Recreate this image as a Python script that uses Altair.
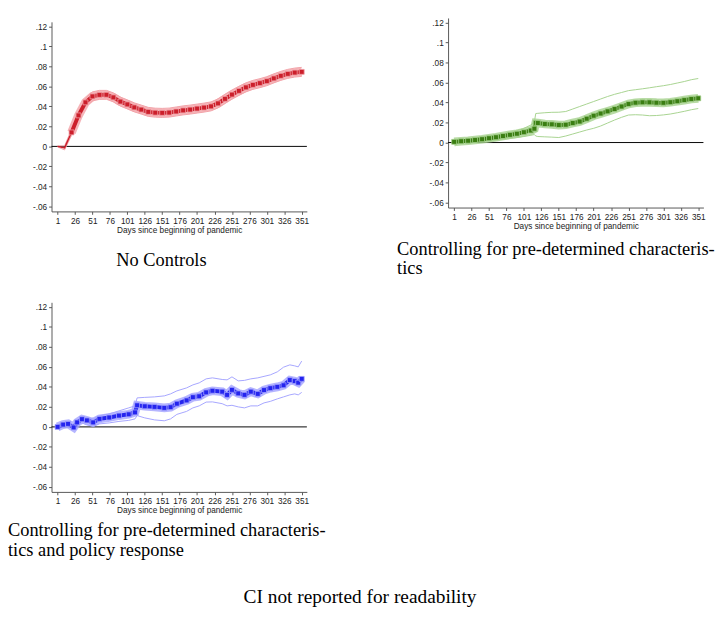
import altair as alt
import pandas as pd

X_TICKS = [1, 26, 51, 76, 101, 126, 151, 176, 201, 226, 251, 276, 301, 326, 351]
Y_TICKS = [-0.06, -0.04, -0.02, 0, 0.02, 0.04, 0.06, 0.08, 0.1, 0.12]
X_TITLE = "Days since beginning of pandemic"

# No controls (red)
red_days = [1, 11, 21, 31, 41, 51, 61, 71, 81, 91, 101, 111, 121, 131, 141, 151, 161, 171,
            181, 191, 201, 211, 221, 231, 241, 251, 261, 271, 281, 291, 301, 311, 321, 331, 341, 351]
red_mid = [0, -0.0015, 0.014, 0.031, 0.044, 0.050, 0.0515, 0.0516, 0.049, 0.0448, 0.042, 0.039,
           0.0368, 0.0345, 0.0337, 0.0335, 0.0338, 0.0349, 0.036, 0.0368, 0.0378, 0.0388, 0.040,
           0.043, 0.0475, 0.0518, 0.0555, 0.059, 0.0615, 0.0632, 0.0652, 0.068, 0.0705, 0.0725,
           0.0738, 0.0745]
red_hi = [0.0005, 0.0005, 0.017, 0.034, 0.048, 0.0545, 0.056, 0.056, 0.0535, 0.0493, 0.0465,
          0.0435, 0.0413, 0.039, 0.0382, 0.038, 0.0383, 0.0394, 0.0405, 0.0413, 0.0423, 0.0433,
          0.0445, 0.0475, 0.052, 0.0563, 0.060, 0.0635, 0.066, 0.0677, 0.0697, 0.0725, 0.075,
          0.077, 0.0783, 0.079]
red_lo = [-0.0005, -0.0035, 0.011, 0.028, 0.040, 0.0455, 0.047, 0.0471, 0.0445, 0.0403, 0.0375,
          0.0345, 0.0323, 0.030, 0.0292, 0.029, 0.0293, 0.0304, 0.0315, 0.0323, 0.0333, 0.0343,
          0.0355, 0.0385, 0.043, 0.0473, 0.051, 0.0545, 0.057, 0.0587, 0.0607, 0.0635, 0.066,
          0.068, 0.0693, 0.070]

# Pre-determined characteristics (green)
green_days = [1, 11, 21, 31, 41, 51, 61, 71, 81, 91, 101, 111, 116, 118, 121, 131, 141, 151, 161,
              171, 181, 191, 201, 211, 221, 231, 241, 251, 261, 271, 281, 291, 301, 311, 321, 331,
              341, 351]
green_mid = [0.0007, 0.0013, 0.0018, 0.0025, 0.0033, 0.0043, 0.0053, 0.0065, 0.0077, 0.0088,
             0.0103, 0.012, 0.0138, 0.0197, 0.0195, 0.0185, 0.0182, 0.0175, 0.0178, 0.0195, 0.021,
             0.0238, 0.0268, 0.029, 0.0312, 0.0335, 0.036, 0.0385, 0.0398, 0.0402, 0.0402, 0.0398,
             0.0397, 0.0403, 0.0413, 0.0424, 0.0435, 0.0442]
green_hi = [0.0012, 0.002, 0.0028, 0.0037, 0.0048, 0.006, 0.0073, 0.0087, 0.0102, 0.0118, 0.0142,
            0.0175, 0.0205, 0.029, 0.0292, 0.0298, 0.0302, 0.0303, 0.031, 0.0335, 0.036, 0.0385,
            0.041, 0.0435, 0.046, 0.0482, 0.050, 0.0519, 0.0528, 0.0537, 0.0547, 0.0558, 0.0568,
            0.058, 0.0595, 0.061, 0.0628, 0.064]
green_lo = [0, 0, 0, 0.0005, 0.0012, 0.0018, 0.0025, 0.0033, 0.0042, 0.005, 0.006, 0.0072, 0.008,
            0.0065, 0.006, 0.0057, 0.0054, 0.005, 0.0065, 0.0085, 0.0105, 0.0125, 0.0142, 0.0165,
            0.0195, 0.0225, 0.0252, 0.0275, 0.0278, 0.0275, 0.0268, 0.027, 0.0276, 0.0285, 0.0298,
            0.0312, 0.0328, 0.034]

# Pre-determined characteristics and policy response (blue)
blue_days = [1, 9, 16, 24, 29, 36, 43, 52, 61, 75, 89, 103, 112, 115, 126, 140, 154, 163, 172,
             186, 195, 204, 214, 223, 237, 244, 251, 260, 269, 278, 288, 297, 306, 316, 325, 334,
             341, 346, 351]
blue_mid = [0, 0.0023, 0.003, -0.0005, 0.0045, 0.0077, 0.0065, 0.0045, 0.008, 0.0094, 0.0113,
            0.0126, 0.0145, 0.0216, 0.0206, 0.020, 0.019, 0.0197, 0.0232, 0.0265, 0.0297, 0.0306,
            0.0345, 0.0361, 0.0352, 0.032, 0.037, 0.0335, 0.032, 0.0352, 0.033, 0.0368, 0.0387,
            0.040, 0.0416, 0.0468, 0.0458, 0.0442, 0.048]
blue_hi = [0, 0.003, 0.004, 0.002, 0.006, 0.009, 0.009, 0.008, 0.011, 0.013, 0.016, 0.019, 0.021,
           0.029, 0.0295, 0.030, 0.031, 0.033, 0.036, 0.039, 0.042, 0.044, 0.048, 0.049, 0.0474,
           0.047, 0.050, 0.046, 0.0465, 0.048, 0.049, 0.0505, 0.052, 0.055, 0.0597, 0.062, 0.061,
           0.060, 0.0658]
blue_lo = [0, 0.001, 0.002, -0.001, 0.002, 0.004, 0.002, 0.0005, 0.003, 0.004, 0.0055, 0.0065,
           0.008, 0.0113, 0.009, 0.007, 0.0061, 0.008, 0.0125, 0.0155, 0.019, 0.021, 0.0248, 0.025,
           0.0232, 0.021, 0.0216, 0.020, 0.019, 0.021, 0.021, 0.024, 0.0255, 0.028, 0.030, 0.032,
           0.033, 0.032, 0.0345]

SERIF = "Liberation Serif"
SANS = "Liberation Sans"

x_scale = alt.Scale(domain=[-7.7, 358.4], nice=False, zero=False)
y_scale = alt.Scale(domain=[-0.065, 0.1245], nice=False, zero=False)
x_axis = alt.Axis(values=X_TICKS, title=X_TITLE)
y_axis = alt.Axis(values=Y_TICKS, title=None,
                  labelExpr="replace(replace(format(datum.value, '.2~f'), '0.', '.'), '\u2212', '-')")


def caption(lines, x, y, align="left", size=19):
    # one text mark per caption line, placed relative to the plot area
    marks = []
    for i, line in enumerate(lines):
        marks.append(
            alt.Chart(pd.DataFrame({"t": [line]})).mark_text(
                font=SERIF, fontSize=size, align=align, baseline="alphabetic", color="black"
            ).encode(x=alt.value(x), y=alt.value(y + i * 20.5), text="t:N")
        )
    return marks


def panel(days, mid, hi, lo, dark, light, band_from=1):
    df = pd.DataFrame({"day": days, "mid": mid, "hi": hi, "lo": lo})
    base = alt.Chart(df)
    banded = base.transform_filter(alt.datum.day >= band_from)  # thin line before the band starts
    X = alt.X("day:Q", scale=x_scale, axis=x_axis)
    Ymid = alt.Y("mid:Q", scale=y_scale, axis=y_axis)
    zero = alt.Chart(pd.DataFrame({"z": [0]})).mark_rule(color="black", strokeWidth=1).encode(
        y=alt.Y("z:Q", scale=y_scale, axis=y_axis)
    )
    upper = base.mark_line(color=light, strokeWidth=1).encode(
        x=X, y=alt.Y("hi:Q", scale=y_scale, axis=y_axis))
    lower = base.mark_line(color=light, strokeWidth=1).encode(
        x=X, y=alt.Y("lo:Q", scale=y_scale, axis=y_axis))
    thin = base.mark_line(color=dark, strokeWidth=1.5).encode(x=X, y=Ymid)
    halo = banded.mark_line(color=light, strokeWidth=9, opacity=0.8).encode(x=X, y=Ymid)
    core = banded.mark_line(color=dark, strokeWidth=4).encode(x=X, y=Ymid)
    squares = banded.mark_square(size=26, fill=dark, stroke=light, strokeWidth=0.8,
                                 opacity=1).encode(x=X, y=Ymid)
    return [zero, upper, lower, thin, halo, core, squares]


# keeps the left edge of the top-left panel in line with the bottom caption
spacer = alt.Chart(pd.DataFrame({"s": [0]})).mark_rule(strokeOpacity=0).encode(
    x=alt.value(-45), x2=alt.value(0), y=alt.value(10))

# empty cell that pushes the top-left panel a little lower than the top-right one
pad_cell = alt.Chart(pd.DataFrame({"s": [0]})).mark_rule(strokeWidth=0, strokeOpacity=0).encode(
    x=alt.value(0), x2=alt.value(1), y=alt.value(1)).properties(width=1, height=1)

red = alt.layer(
    *panel(red_days, red_mid, red_hi, red_lo, "#cc1f2b", "#f2a2a8", band_from=21),
    *caption(["No Controls"], 67, 252.7),
    spacer,
).properties(width=264, height=196)

green = alt.layer(
    *panel(green_days, green_mid, green_hi, green_lo, "#3a7e12", "#a6d28e"),
    *caption(["Controlling for pre-determined characteris-", "tics"], -52.7, 244.7),
).properties(width=264, height=196)

blue = alt.layer(
    *panel(blue_days, blue_mid, blue_hi, blue_lo, "#2424ee", "#a4a4ff"),
    *caption(["Controlling for pre-determined characteris-", "tics and policy response"], -45, 242),
    *caption(["CI not reported for readability"], 319, 311, align="center", size=20),
).properties(width=264, height=196)

chart = alt.vconcat(
    alt.hconcat(alt.vconcat(pad_cell, red, spacing=3), green, spacing=80),
    blue,
    spacing=24,
).properties(padding=0).configure_view(
    strokeWidth=0
).configure_axis(
    grid=False,
    labelFont=SANS,
    titleFont=SANS,
    labelFontSize=8.5,
    titleFontSize=8.5,
    titleFontWeight="normal",
    labelColor="#222222",
    titleColor="#222222",
    domainColor="#555555",
    tickColor="#555555",
    tickSize=3,
    labelPadding=2,
    titlePadding=1,
)

chart.save("out.html", embed_options={"renderer": "svg", "actions": False})
